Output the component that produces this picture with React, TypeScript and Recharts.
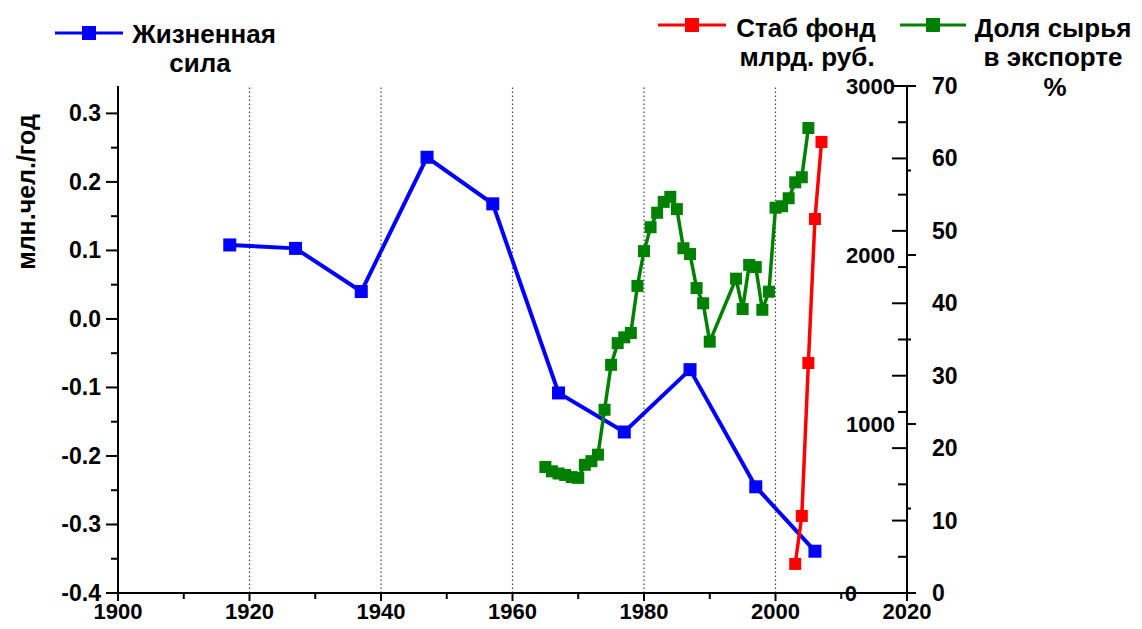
import React from 'react';
import { LineChart, Line, XAxis, YAxis, ReferenceLine, Legend } from 'recharts';

// "Жизненная сила", млн.чел./год
const lifeYears = [1917, 1927, 1937, 1947, 1957, 1967, 1977, 1987, 1997, 2006];
const lifeValues = [0.108, 0.103, 0.04, 0.236, 0.168, -0.108, -0.165, -0.074, -0.245, -0.339];

// Стаб фонд, млрд. руб.
const fundYears = [2003, 2004, 2005, 2006, 2007];
const fundValues = [172, 456, 1361, 2213, 2669];

// Доля сырья в экспорте, %
const exportYears = [
  1965, 1966, 1967, 1968, 1969, 1970, 1971, 1972, 1973, 1974, 1975, 1976, 1977, 1978, 1979,
  1980, 1981, 1982, 1983, 1984, 1985, 1986, 1987, 1988, 1989, 1990,
  1994, 1995, 1996, 1997, 1998, 1999, 2000, 2001, 2002, 2003, 2004, 2005,
];
const exportValues = [
  17.4, 16.8, 16.5, 16.3, 16.0, 15.9, 17.7, 18.2, 19.1, 25.3, 31.5, 34.5, 35.3, 35.9, 42.4,
  47.2, 50.5, 52.5, 54.0, 54.7, 53.0, 47.6, 46.8, 42.1, 40.0, 34.7,
  43.4, 39.2, 45.3, 45.0, 39.1, 41.6, 53.2, 53.4, 54.5, 56.7, 57.4, 64.2,
];

const xTicks = [1900, 1910, 1920, 1930, 1940, 1950, 1960, 1970, 1980, 1990, 2000, 2010, 2020];
const gridYears = [1920, 1940, 1960, 1980, 2000];
const lifeTicks = [-0.4, -0.35, -0.3, -0.25, -0.2, -0.15, -0.1, -0.05, 0, 0.05, 0.1, 0.15, 0.2, 0.25, 0.3];
const fundTicks = [0, 500, 1000, 1500, 2000, 2500, 3000];
const pctTicks = [0, 5, 10, 15, 20, 25, 30, 35, 40, 45, 50, 55, 60, 65, 70];

const lifeData = lifeYears.map((year, i) => ({ year, value: lifeValues[i] }));
const fundData = fundYears.map((year, i) => ({ year, value: fundValues[i] }));
const exportData = exportYears.map((year, i) => ({ year, value: exportValues[i] }));

const FONT = '"Liberation Sans", Arial, sans-serif';
const BLUE = '#0000ff';
const RED = '#ff0000';
const GREEN = '#008000';

const txt = { fontFamily: FONT, fontWeight: 'bold' as const, fill: '#000' };

const XTick = ({ x, y, payload }: any) => {
  const v = payload.value;
  const major = v % 20 === 0;
  return (
    <g>
      <line x1={x} y1={y} x2={x} y2={y + (major ? 8 : 6)} stroke="#000" strokeWidth={2} />
      {major && (
        <text x={x} y={y + 26} textAnchor="middle" fontSize={22} {...txt}>{v}</text>
      )}
    </g>
  );
};

const LifeTick = ({ x, y, payload }: any) => {
  const v = payload.value;
  const major = Math.abs(v * 10 - Math.round(v * 10)) < 1e-6;
  return (
    <g>
      <line x1={x - (major ? 12 : 7)} y1={y} x2={x} y2={y} stroke="#000" strokeWidth={2} />
      {major && (
        <text x={x - 17} y={y + 8} textAnchor="end" fontSize={23} {...txt}>{v.toFixed(1)}</text>
      )}
    </g>
  );
};

const FundTick = ({ x, y, payload }: any) => {
  const v = payload.value;
  const major = v % 1000 === 0;
  return (
    <g>
      <line x1={x} y1={y} x2={x + (major ? 9 : 4)} y2={y} stroke="#000" strokeWidth={2} />
      {major && (
        <text x={x - (v === 0 ? 50 : 12)} y={y + 8} textAnchor="end" fontSize={22} {...txt}>{v}</text>
      )}
    </g>
  );
};

const PctTick = ({ x, y, payload }: any) => {
  const v = payload.value;
  const major = v % 10 === 0;
  return (
    <g>
      <line x1={x - (major ? 15 : 9)} y1={y} x2={x} y2={y} stroke="#000" strokeWidth={2} />
      {major && (
        <text x={x + 25} y={y + 8} textAnchor="start" fontSize={23} {...txt}>{v}</text>
      )}
    </g>
  );
};

const squareDot = (color: string, size: number) => (p: any) => (
  <rect key={p.index} x={p.cx - size / 2} y={p.cy - size / 2} width={size} height={size} fill={color} />
);

const LegendIcon = ({ x1, x2, y, color }: { x1: number; x2: number; y: number; color: string }) => (
  <g>
    <line x1={x1} y1={y} x2={x2} y2={y} stroke={color} strokeWidth={3} />
    <rect x={(x1 + x2) / 2 - 7} y={y - 7} width={14} height={14} fill={color} />
  </g>
);

const renderLegend = () => (
  <svg width={1142} height={120} style={{ display: 'block', overflow: 'visible' }}>
    <LegendIcon x1={55} x2={123} y={33} color={BLUE} />
    <text x={204} y={43} textAnchor="middle" fontSize={26} {...txt}>Жизненная</text>
    <text x={200} y={72} textAnchor="middle" fontSize={26} {...txt}>сила</text>

    <LegendIcon x1={658} x2={726} y={25} color={RED} />
    <text x={806} y={37} textAnchor="middle" fontSize={26} {...txt}>Стаб фонд</text>
    <text x={807} y={66} textAnchor="middle" fontSize={26} {...txt}>млрд. руб.</text>

    <LegendIcon x1={900} x2={966} y={25} color={GREEN} />
    <text x={1053} y={37} textAnchor="middle" fontSize={26} {...txt}>Доля сырья</text>
    <text x={1053} y={66} textAnchor="middle" fontSize={26} {...txt}>в экспорте</text>
    <text x={1055} y={96} textAnchor="middle" fontSize={26} {...txt}>%</text>
  </svg>
);

const lifeTitle = () => (
  <text
    x={26}
    y={192}
    transform="rotate(-90 26 192)"
    textAnchor="middle"
    dominantBaseline="central"
    fontSize={25}
    {...txt}
  >
    млн.чел./год
  </text>
);

export default function App() {
  return (
    <div style={{ margin: '-8px', width: 1142, height: 629, background: '#fff' }}>
      <LineChart width={1142} height={629} margin={{ top: 86, right: 0, bottom: 0, left: 0 }}>
        <XAxis
          dataKey="year"
          type="number"
          domain={[1900, 2020]}
          ticks={xTicks}
          interval={0}
          height={36}
          tickSize={0}
          tickMargin={0}
          tickLine={false}
          tick={<XTick />}
          axisLine={{ stroke: '#000', strokeWidth: 2 }}
          allowDataOverflow
        />
        <YAxis
          yAxisId="life"
          orientation="left"
          type="number"
          domain={[-0.4, 0.34]}
          ticks={lifeTicks}
          interval={0}
          width={118}
          tickSize={0}
          tickMargin={0}
          tickLine={false}
          tick={<LifeTick />}
          axisLine={{ stroke: '#000', strokeWidth: 2 }}
          allowDataOverflow
          label={{ content: lifeTitle }}
        />
        <YAxis
          yAxisId="pct"
          orientation="right"
          type="number"
          domain={[0, 70]}
          ticks={pctTicks}
          interval={0}
          width={235}
          tickSize={0}
          tickMargin={0}
          tickLine={false}
          tick={<PctTick />}
          axisLine={{ stroke: '#000', strokeWidth: 2 }}
          allowDataOverflow
        />
        <YAxis
          yAxisId="fund"
          orientation="right"
          mirror
          type="number"
          domain={[0, 3000]}
          ticks={fundTicks}
          interval={0}
          width={60}
          tickSize={0}
          tickMargin={0}
          tickLine={false}
          tick={<FundTick />}
          axisLine={false}
          allowDataOverflow
        />
        {gridYears.map((yr) => (
          <ReferenceLine
            key={yr}
            x={yr}
            yAxisId="life"
            stroke="#444"
            strokeWidth={1.2}
            strokeDasharray="1.5 2.5"
          />
        ))}
        <Legend
          layout="horizontal"
          align="center"
          verticalAlign="middle"
          width={1142}
          height={120}
          wrapperStyle={{ top: 0, left: 0, width: 1142, height: 120 }}
          content={renderLegend}
        />
        <Line
          yAxisId="life"
          data={lifeData}
          dataKey="value"
          stroke={BLUE}
          strokeWidth={4}
          dot={squareDot(BLUE, 13)}
          activeDot={false}
          isAnimationActive={false}
        />
        <Line
          yAxisId="pct"
          data={exportData}
          dataKey="value"
          stroke={GREEN}
          strokeWidth={3.5}
          dot={squareDot(GREEN, 12)}
          activeDot={false}
          isAnimationActive={false}
        />
        <Line
          yAxisId="fund"
          data={fundData}
          dataKey="value"
          stroke={RED}
          strokeWidth={3.5}
          dot={squareDot(RED, 12)}
          activeDot={false}
          isAnimationActive={false}
        />
      </LineChart>
    </div>
  );
}
